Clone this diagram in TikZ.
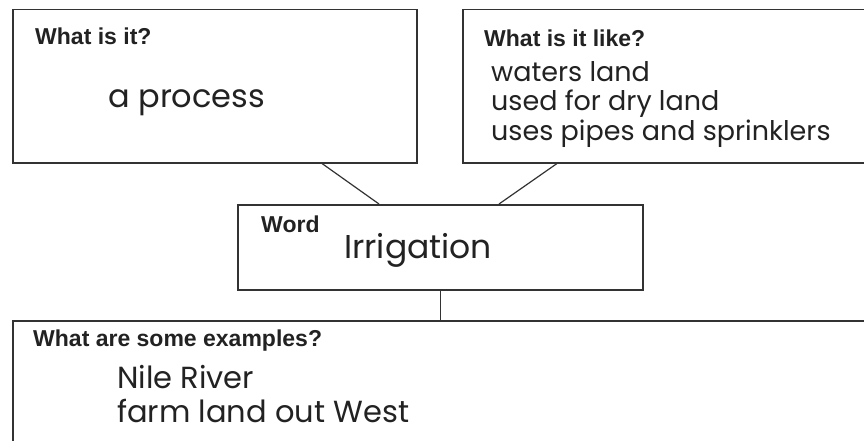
\documentclass[tikz,border=0pt]{standalone}
\usepackage{fontspec}
\setmainfont{Liberation Sans}
\newfontfamily\hand{Poppins}
\definecolor{ink}{HTML}{222222}
\definecolor{rule}{HTML}{333333}
\begin{document}
\begin{tikzpicture}[x=1pt,y=-1pt,
  box/.style={draw=rule, line width=1.5pt, fill=white, rectangle, inner sep=0pt, anchor=north west},
  lab/.style={anchor=base west, inner sep=0pt, text=ink, font=\fontsize{23}{24}\selectfont\bfseries},
  hw/.style={anchor=base west, inner sep=0pt, text=ink},
  link/.style={draw=rule, line width=1.2pt}]
\useasboundingbox (0,0) rectangle (864,441);
\clip (0,0) rectangle (864,441);
\fill[white] (0,0) rectangle (864,441);
% boxes
\node[box, minimum width=404pt, minimum height=153pt] (what) at (12,9) {};
\node[box, minimum width=420pt, minimum height=153pt] (like) at (462,9) {};
\node[box, minimum width=405pt, minimum height=85pt] (word) at (237,204) {};
\node[box, minimum width=870pt, minimum height=150pt] (ex) at (12,320) {};
% connectors
\draw[link] ([xshift=310pt]what.south west) -- ([xshift=142pt]word.north west);
\draw[link] ([xshift=95pt]like.south west) -- ([xshift=262pt]word.north west);
\draw[link] (word.south) -- (word.south |- ex.north);
% labels
\node[lab] (t1) at (35,45) {What is it?};
\node[hw, font=\fontsize{32}{34}\selectfont\hand] (a1) at (108,108) {a process};
\node[lab] (t2) at (484,47) {What is it like?};
\node[hw, font=\fontsize{27}{30}\selectfont\hand] (a2) at (491,82) {waters land};
\node[hw, font=\fontsize{27}{30}\selectfont\hand] (a2b) at (491,111) {used for dry land};
\node[hw, font=\fontsize{27}{30}\selectfont\hand] (a2c) at (491,140) {uses pipes and sprinklers};
\node[lab] (t3) at (261,232) {Word};
\node[hw, font=\fontsize{33}{34}\selectfont\hand] (a3) at (344,258) {Irrigation};
\node[lab] (t4) at (33,346) {What are some examples?};
\node[hw, font=\fontsize{30.5}{34}\selectfont\hand] (a4) at (117,388) {Nile River};
\node[hw, font=\fontsize{30.5}{34}\selectfont\hand] (a4b) at (117,422) {farm land out West};
\end{tikzpicture}
\end{document}
